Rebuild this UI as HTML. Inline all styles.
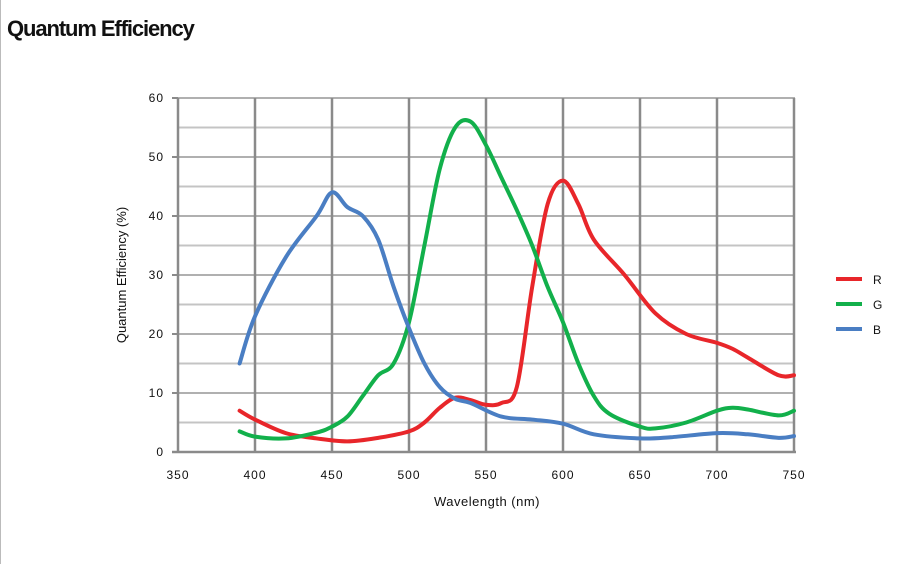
<!DOCTYPE html>
<html><head><meta charset="utf-8"><style>
html,body{margin:0;padding:0;background:#fff;}
body{width:900px;height:564px;overflow:hidden;position:relative;font-family:"Liberation Sans",sans-serif;}
#title{position:absolute;left:7px;top:16px;font-size:22px;font-weight:bold;letter-spacing:-1.1px;color:#111;}
</style></head><body>
<div id="title">Quantum Efficiency</div>
<svg id="s" width="900" height="564" style="position:absolute;left:0;top:0">
<line x1="0.5" y1="0" x2="0.5" y2="564" stroke="#bbb"/>
<g id="grid"></g>
<g id="lbl" font-family="Liberation Sans, sans-serif" font-size="12" fill="#111" letter-spacing="1"></g>
<text x="487" y="506" font-size="13" text-anchor="middle" font-family="Liberation Sans, sans-serif" fill="#111" letter-spacing="0.5">Wavelength (nm)</text>
<text transform="translate(126,275) rotate(-90)" font-size="13" text-anchor="middle" font-family="Liberation Sans, sans-serif" fill="#111">Quantum Efficiency (%)</text>
<g id="curves" fill="none" stroke-width="4" stroke-linejoin="round" stroke-linecap="round"></g>
<line x1="836" y1="279" x2="862" y2="279" stroke="#e8262a" stroke-width="4"/>
<line x1="836" y1="304" x2="862" y2="304" stroke="#12b04b" stroke-width="4"/>
<line x1="836" y1="329" x2="862" y2="329" stroke="#4a7ec3" stroke-width="4"/>
<g font-family="Liberation Sans, sans-serif" font-size="12" fill="#111">
<text x="873" y="284">R</text><text x="873" y="309">G</text><text x="873" y="334">B</text></g>
</svg>
<script>
const X=w=>178+(w-350)*1.54, Y=v=>452-v*5.9;
const ns="http://www.w3.org/2000/svg";
function el(p,t,a,txt){const e=document.createElementNS(ns,t);for(const k in a)e.setAttribute(k,a[k]);if(txt!=null)e.textContent=txt;document.getElementById(p).appendChild(e);}
for(let v=5;v<=60;v+=5){el("grid","line",{x1:178,x2:795,y1:Y(v),y2:Y(v),stroke:v%10?"#c4c4c4":"#b0b0b0","stroke-width":2});}
for(let w=400;w<=750;w+=50){el("grid","line",{x1:X(w),x2:X(w),y1:Y(60),y2:Y(0),stroke:"#8a8a8a","stroke-width":2.5});}
el("grid","line",{x1:178,x2:178,y1:Y(60),y2:Y(0)+1,stroke:"#8a8a8a","stroke-width":2.5});
el("grid","line",{x1:172,x2:796,y1:Y(0),y2:Y(0),stroke:"#8a8a8a","stroke-width":2.5});
for(let v=0;v<=60;v+=10){el("grid","line",{x1:172,x2:178,y1:Y(v),y2:Y(v),stroke:"#8a8a8a","stroke-width":2});el("lbl","text",{x:164,y:Y(v)+4,"text-anchor":"end"},v);}
for(let w=350;w<=750;w+=50){el("lbl","text",{x:X(w),y:479,"text-anchor":"middle"},w);}
function path(pts){const p=pts.map(a=>[X(a[0]),Y(a[1])]);let d="M"+p[0].join(",");for(let i=0;i<p.length-1;i++){const p0=p[Math.max(0,i-1)],p1=p[i],p2=p[i+1],p3=p[Math.min(p.length-1,i+2)];const c1=[p1[0]+(p2[0]-p0[0])/6,p1[1]+(p2[1]-p0[1])/6],c2=[p2[0]-(p3[0]-p1[0])/6,p2[1]-(p3[1]-p1[1])/6];d+=" C"+c1.join(",")+" "+c2.join(",")+" "+p2.join(",");}return d;}
const B=[[390,15],[400,23],[420,33],[440,40],[450,44],[460,41.5],[470,40],[480,36],[490,28],[500,21],[510,15],[520,11],[530,9],[540,8.3],[560,6],[580,5.5],[600,4.8],[620,3],[650,2.3],[670,2.5],[700,3.2],[720,3],[740,2.4],[750,2.7]];
const G=[[390,3.5],[400,2.6],[420,2.3],[440,3.3],[450,4.3],[460,6],[470,9.5],[480,13],[490,15],[500,22],[510,35],[520,48],[530,55],[540,56],[550,52],[560,46.5],[570,41],[580,35],[590,28],[600,22],[610,15],[620,9.5],[630,6.5],[650,4.3],[660,4],[680,5],[700,7],[710,7.5],[720,7.2],[740,6.2],[750,7]];
const R=[[390,7],[400,5.5],[420,3.2],[440,2.3],[460,1.8],[480,2.4],[500,3.5],[510,5],[520,7.5],[530,9.2],[540,8.8],[550,8],[560,8.3],[570,11],[580,28],[590,42],[600,46],[610,42],[620,36],[640,30],[660,23.5],[680,20],[700,18.5],[710,17.5],[720,16],[740,13],[750,13]];
el("curves","path",{d:path(R),stroke:"#e8262a"});
el("curves","path",{d:path(G),stroke:"#12b04b"});
el("curves","path",{d:path(B),stroke:"#4a7ec3"});
</script>
</body></html>
